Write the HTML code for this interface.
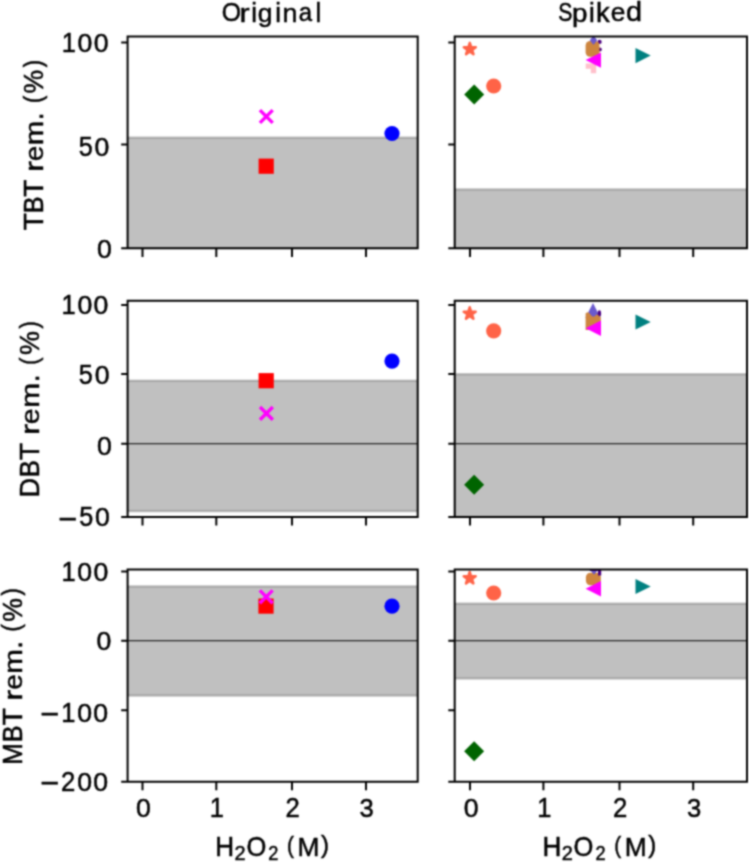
<!DOCTYPE html><html><head><meta charset="utf-8"><style>html,body{margin:0;padding:0;background:#fff;}svg{display:block;font-family:"Liberation Sans",sans-serif;}</style></head><body><svg width="749" height="862" viewBox="0 0 749 862">
<defs>
<clipPath id="c00"><rect x="127.6" y="36.4" width="290.1" height="211.9"/></clipPath>
<clipPath id="c01"><rect x="454.7" y="36.4" width="292.3" height="211.9"/></clipPath>
<clipPath id="c10"><rect x="127.6" y="300.7" width="290.1" height="216.3"/></clipPath>
<clipPath id="c11"><rect x="454.7" y="300.7" width="292.3" height="216.3"/></clipPath>
<clipPath id="c20"><rect x="127.6" y="569.4" width="290.1" height="212.3"/></clipPath>
<clipPath id="c21"><rect x="454.7" y="569.4" width="292.3" height="212.3"/></clipPath>
<filter id="bl" x="0" y="0" width="749" height="862" filterUnits="userSpaceOnUse" color-interpolation-filters="sRGB"><feConvolveMatrix order="5" divisor="1" kernelMatrix="0.00048 0.00501 0.01095 0.00501 0.00048 0.00501 0.05222 0.11405 0.05222 0.00501 0.01095 0.11405 0.24912 0.11405 0.01095 0.00501 0.05222 0.11405 0.05222 0.00501 0.00048 0.00501 0.01095 0.00501 0.00048" edgeMode="duplicate"/></filter>
</defs>
<g filter="url(#bl)">
<rect width="749" height="862" fill="#fff"/>
<g clip-path="url(#c00)">
<rect x="124.6" y="137.7" width="296.1" height="110.6" fill="#c0c0c0" stroke="rgba(128,128,128,0.5)" stroke-width="2.4"/>
</g>
<g clip-path="url(#c01)">
<rect x="451.7" y="189.5" width="298.3" height="58.8" fill="#c0c0c0" stroke="rgba(128,128,128,0.5)" stroke-width="2.4"/>
</g>
<g clip-path="url(#c10)">
<rect x="124.6" y="380.8" width="296.1" height="130.3" fill="#c0c0c0" stroke="rgba(128,128,128,0.5)" stroke-width="2.4"/>
<line x1="127.6" x2="417.7" y1="443.7" y2="443.7" stroke="#000" stroke-width="1.05"/>
</g>
<g clip-path="url(#c11)">
<rect x="451.7" y="374.3" width="298.3" height="142.7" fill="#c0c0c0" stroke="rgba(128,128,128,0.5)" stroke-width="2.4"/>
<line x1="454.7" x2="747.0" y1="443.7" y2="443.7" stroke="#000" stroke-width="1.05"/>
</g>
<g clip-path="url(#c20)">
<rect x="124.6" y="586.5" width="296.1" height="109" fill="#c0c0c0" stroke="rgba(128,128,128,0.5)" stroke-width="2.4"/>
<line x1="127.6" x2="417.7" y1="640.8" y2="640.8" stroke="#000" stroke-width="1.05"/>
</g>
<g clip-path="url(#c21)">
<rect x="451.7" y="603.7" width="298.3" height="74.7" fill="#c0c0c0" stroke="rgba(128,128,128,0.5)" stroke-width="2.4"/>
<line x1="454.7" x2="747.0" y1="640.8" y2="640.8" stroke="#000" stroke-width="1.05"/>
</g>
<g clip-path="url(#c00)"><rect x="258.6" y="158.6" width="15.2" height="15.2" fill="#ff0000"/><path d="M259.9,110.1L272.7,122.9M259.9,122.9L272.7,110.1" stroke="#ff00ff" stroke-width="3.4" fill="none"/><circle cx="392" cy="133.5" r="7.6" fill="#0000ff"/></g>
<g clip-path="url(#c01)"><polygon points="469.8,42.85 471.21,47.2 475.79,47.2 472.09,49.89 473.5,54.25 469.8,51.56 466.1,54.25 467.51,49.89 463.81,47.2 468.39,47.2" fill="#ff6347" stroke="#ff6347" stroke-width="2.5" stroke-linejoin="round"/><polygon points="474.2,84.5 484.2,94.5 474.2,104.5 464.2,94.5" fill="#006400"/><circle cx="493.7" cy="86" r="7.6" fill="#ff6347"/><path d="M585.7,63.6H596.2V73.3H590.8V68.7H585.7Z" fill="#ffc0cb"/><circle cx="599.6" cy="41.9" r="2.1" fill="#4b0082"/><circle cx="599.8" cy="49.4" r="2.0" fill="#4b0082"/><rect x="585.6" y="41" width="13.9" height="15.7" rx="4.5" fill="#cd853f"/><polygon points="593.5,36.3 596.7,40.3 593.5,44.3 590.3,40.3" fill="#6a5acd" stroke="#6a5acd" stroke-width="1" stroke-linejoin="round"/><polygon points="585.6,60.1 601,52.4 601,67.8" fill="#ff00ff"/><polygon points="650.7,55.6 635.5,48 635.5,63.2" fill="#008080"/></g>
<g clip-path="url(#c10)"><rect x="258.6" y="373.1" width="15.2" height="15.2" fill="#ff0000"/><path d="M260,407L272.8,419.8M260,419.8L272.8,407" stroke="#ff00ff" stroke-width="3.4" fill="none"/><circle cx="392" cy="361.1" r="7.6" fill="#0000ff"/></g>
<g clip-path="url(#c11)"><polygon points="469.7,307.3 471.11,311.65 475.69,311.65 471.99,314.34 473.4,318.7 469.7,316.01 466,318.7 467.41,314.34 463.71,311.65 468.29,311.65" fill="#ff6347" stroke="#ff6347" stroke-width="2.5" stroke-linejoin="round"/><circle cx="493.7" cy="330.8" r="7.6" fill="#ff6347"/><polygon points="474.1,474.8 484.1,484.8 474.1,494.8 464.1,484.8" fill="#006400"/><polygon points="593,302.9 585.4,318.1 600.6,318.1" fill="#6a5acd"/><ellipse cx="599.4" cy="313.6" rx="1.7" ry="3.4" fill="#4b0082"/><path d="M585.6,313.5L587.2,312.3L589,312.8L590.5,314.5L592,316.2L593.5,316.8L595,316L596.6,314.6L598,315L600.8,317.5V330H585.6Z" fill="#cd853f"/><polygon points="585.6,328.2 601,320.5 601,335.9" fill="#ff00ff"/><polygon points="650.7,322 635.5,314.4 635.5,329.6" fill="#008080"/></g>
<g clip-path="url(#c20)"><rect x="258.4" y="598.5" width="15.2" height="15.2" fill="#ff0000"/><path d="M259.8,590.4L272.6,603.2M259.8,603.2L272.6,590.4" stroke="#ff00ff" stroke-width="3.4" fill="none"/><circle cx="392" cy="606.2" r="7.6" fill="#0000ff"/></g>
<g clip-path="url(#c21)"><polygon points="469.7,572 471.11,576.35 475.69,576.35 471.99,579.04 473.4,583.4 469.7,580.71 466,583.4 467.41,579.04 463.71,576.35 468.29,576.35" fill="#ff6347" stroke="#ff6347" stroke-width="2.5" stroke-linejoin="round"/><circle cx="493.7" cy="593" r="7.6" fill="#ff6347"/><polygon points="474.1,741.3 484.1,751.3 474.1,761.3 464.1,751.3" fill="#006400"/><rect x="585.9" y="572.8" width="14.9" height="12.5" rx="4.5" fill="#cd853f"/><polygon points="594,561.8 598.9,568 594,574.2 589.1,568" fill="#6a5acd" stroke="#6a5acd" stroke-width="1" stroke-linejoin="round"/><path d="M589.8,569.4H601.2V575.4H598V571.1H589.8Z" fill="#4b0082"/><polygon points="585.6,588.7 601,581 601,596.4" fill="#ff00ff"/><polygon points="650.7,586.5 635.5,578.9 635.5,594.1" fill="#008080"/></g>
<path d="M127.6,36.4H417.7V248.3H127.6ZM121.2,42.6H127.6M121.2,144.6H127.6M121.2,248.3H127.6M142.5,248.3V256.9M216.3,248.3V256.9M292.0,248.3V256.9M366.0,248.3V256.9M454.7,36.4H747.0V248.3H454.7ZM448.3,42.6H454.7M448.3,144.6H454.7M448.3,248.3H454.7M470.0,248.3V256.9M543.4,248.3V256.9M619.5,248.3V256.9M693.2,248.3V256.9M127.6,300.7H417.7V517.0H127.6ZM121.2,304.9H127.6M121.2,373.9H127.6M121.2,443.7H127.6M121.2,517.0H127.6M142.5,517.0V525.6M216.3,517.0V525.6M292.0,517.0V525.6M366.0,517.0V525.6M454.7,300.7H747.0V517.0H454.7ZM448.3,304.9H454.7M448.3,373.9H454.7M448.3,443.7H454.7M448.3,517.0H454.7M470.0,517.0V525.6M543.4,517.0V525.6M619.5,517.0V525.6M693.2,517.0V525.6M127.6,569.4H417.7V781.7H127.6ZM121.2,571.5H127.6M121.2,640.8H127.6M121.2,710.2H127.6M121.2,781.7H127.6M142.5,781.7V790.3M216.3,781.7V790.3M292.0,781.7V790.3M366.0,781.7V790.3M454.7,569.4H747.0V781.7H454.7ZM448.3,571.5H454.7M448.3,640.8H454.7M448.3,710.2H454.7M448.3,781.7H454.7M470.0,781.7V790.3M543.4,781.7V790.3M619.5,781.7V790.3M693.2,781.7V790.3" stroke="#000" stroke-width="2.0" fill="none" stroke-linecap="butt"/>
<g font-family="Liberation Sans" font-size="1" fill="#000" stroke="#000"><text transform="matrix(24.758,0,0,26.553,221.727,21.341)" stroke-width="0.0195">O</text><text transform="matrix(30.4,0,0,26.018,239.581,21.6)" stroke-width="0.0178">r</text><text transform="matrix(25.862,0,0,27.601,251.333,21.6)" stroke-width="0.0187">i</text><text transform="matrix(26.462,0,0,26.339,257.789,21.734)" stroke-width="0.0189">g</text><text transform="matrix(25.862,0,0,27.601,275.133,21.6)" stroke-width="0.0187">i</text><text transform="matrix(26.836,0,0,26.018,282.618,21.6)" stroke-width="0.0189">n</text><text transform="matrix(23.945,0,0,25.554,298.783,21.35)" stroke-width="0.0202">a</text><text transform="matrix(25.862,0,0,27.601,315.521,21.6)" stroke-width="0.0187">l</text><text transform="matrix(21.192,0,0,26.553,558.138,21.341)" stroke-width="0.0211">S</text><text transform="matrix(27.796,0,0,26.305,572.008,21.741)" stroke-width="0.0185">p</text><text transform="matrix(25.862,0,0,27.601,588.983,21.6)" stroke-width="0.0187">i</text><text transform="matrix(27.414,0,0,27.601,596.053,21.6)" stroke-width="0.0182">k</text><text transform="matrix(26.213,0,0,25.554,610.786,21.35)" stroke-width="0.0193">e</text><text transform="matrix(28.908,0,0,27.234,625.986,21.334)" stroke-width="0.0178">d</text><text transform="matrix(25.472,0,0,27.326,61.645,52)" stroke-width="0.0190">1</text><text transform="matrix(26.67,0,0,26.553,77.528,51.741)" stroke-width="0.0188">0</text><text transform="matrix(26.67,0,0,26.553,93.625,51.741)" stroke-width="0.0188">0</text><text transform="matrix(25.17,0,0,26.944,78.712,155.837)" stroke-width="0.0192">5</text><text transform="matrix(26.67,0,0,26.553,94.49,155.841)" stroke-width="0.0188">0</text><text transform="matrix(26.67,0,0,26.553,96.884,257.541)" stroke-width="0.0188">0</text><text transform="matrix(25.472,0,0,27.326,61.595,314.45)" stroke-width="0.0190">1</text><text transform="matrix(26.67,0,0,26.553,77.478,314.191)" stroke-width="0.0188">0</text><text transform="matrix(26.67,0,0,26.553,93.575,314.191)" stroke-width="0.0188">0</text><text transform="matrix(25.17,0,0,26.944,78.862,383.787)" stroke-width="0.0192">5</text><text transform="matrix(26.67,0,0,26.553,94.64,383.791)" stroke-width="0.0188">0</text><text transform="matrix(26.67,0,0,26.553,96.984,454.591)" stroke-width="0.0188">0</text><text transform="matrix(32.598,0,0,29.801,58.127,528.636)" stroke-width="0.0160">−</text><text transform="matrix(25.17,0,0,26.944,79.196,526.487)" stroke-width="0.0192">5</text><text transform="matrix(26.67,0,0,26.553,94.975,526.491)" stroke-width="0.0188">0</text><text transform="matrix(25.472,0,0,27.326,61.395,581.25)" stroke-width="0.0190">1</text><text transform="matrix(26.67,0,0,26.553,77.278,580.991)" stroke-width="0.0188">0</text><text transform="matrix(26.67,0,0,26.553,93.375,580.991)" stroke-width="0.0188">0</text><text transform="matrix(26.67,0,0,26.553,96.384,650.291)" stroke-width="0.0188">0</text><text transform="matrix(32.598,0,0,29.801,40.279,723.936)" stroke-width="0.0160">−</text><text transform="matrix(25.472,0,0,27.326,61.243,722.05)" stroke-width="0.0190">1</text><text transform="matrix(26.67,0,0,26.553,77.127,721.791)" stroke-width="0.0188">0</text><text transform="matrix(26.67,0,0,26.553,93.223,721.791)" stroke-width="0.0188">0</text><text transform="matrix(32.598,0,0,29.801,40.279,793.186)" stroke-width="0.0160">−</text><text transform="matrix(25.707,0,0,26.925,60.964,791.3)" stroke-width="0.0190">2</text><text transform="matrix(26.67,0,0,26.553,77.127,791.041)" stroke-width="0.0188">0</text><text transform="matrix(26.67,0,0,26.553,93.223,791.041)" stroke-width="0.0188">0</text><text transform="matrix(26.67,0,0,26.553,135.934,816.841)" stroke-width="0.0188">0</text><text transform="matrix(25.472,0,0,27.326,209.719,817.1)" stroke-width="0.0190">1</text><text transform="matrix(25.707,0,0,26.925,285.552,817.1)" stroke-width="0.0190">2</text><text transform="matrix(25.613,0,0,26.553,359.403,816.841)" stroke-width="0.0192">3</text><text transform="matrix(26.67,0,0,26.553,463.634,816.841)" stroke-width="0.0188">0</text><text transform="matrix(25.472,0,0,27.326,537.319,817.1)" stroke-width="0.0190">1</text><text transform="matrix(25.707,0,0,26.925,612.902,817.1)" stroke-width="0.0190">2</text><text transform="matrix(25.613,0,0,26.553,687.053,816.841)" stroke-width="0.0192">3</text><text transform="matrix(0,-28.194,27.326,0,43.2,230.349)" stroke-width="0.0180">T</text><text transform="matrix(0,-25.115,27.326,0,43.2,213.373)" stroke-width="0.0191">B</text><text transform="matrix(0,-28.194,27.326,0,43.2,196.825)" stroke-width="0.0180">T</text><text transform="matrix(0,-33.12,26.018,0,43.2,171.96)" stroke-width="0.0170">r</text><text transform="matrix(0,-27.921,25.554,0,42.95,161.241)" stroke-width="0.0187">e</text><text transform="matrix(0,-29.453,26.018,0,43.2,145.185)" stroke-width="0.0181">m</text><text transform="matrix(0,-27.971,29.685,0,43.2,120.186)" stroke-width="0.0174">.</text><text transform="matrix(0,-21.851,25.277,0,41.516,103.096)" stroke-width="0.0213">(</text><text transform="matrix(0,-26.544,26.868,0,43.043,93.397)" stroke-width="0.0187">%</text><text transform="matrix(0,-21.851,25.277,0,41.516,67.372)" stroke-width="0.0213">)</text><text transform="matrix(0,-27.221,27.326,0,39.3,497.581)" stroke-width="0.0183">D</text><text transform="matrix(0,-25.562,27.326,0,39.3,477.185)" stroke-width="0.0189">B</text><text transform="matrix(0,-28.696,27.326,0,39.3,460.343)" stroke-width="0.0179">T</text><text transform="matrix(0,-33.71,26.018,0,39.3,435.036)" stroke-width="0.0169">r</text><text transform="matrix(0,-28.418,25.554,0,39.05,424.125)" stroke-width="0.0186">e</text><text transform="matrix(0,-29.977,26.018,0,39.3,407.784)" stroke-width="0.0179">m</text><text transform="matrix(0,-28.469,29.685,0,39.3,382.34)" stroke-width="0.0172">.</text><text transform="matrix(0,-22.24,25.277,0,37.616,364.946)" stroke-width="0.0211">(</text><text transform="matrix(0,-27.017,26.868,0,39.143,355.074)" stroke-width="0.0186">%</text><text transform="matrix(0,-22.24,25.277,0,37.616,328.587)" stroke-width="0.0211">)</text><text transform="matrix(0,-25.884,27.326,0,21.9,764.675)" stroke-width="0.0188">M</text><text transform="matrix(0,-25.222,27.326,0,21.9,742.223)" stroke-width="0.0190">B</text><text transform="matrix(0,-28.314,27.326,0,21.9,725.604)" stroke-width="0.0180">T</text><text transform="matrix(0,-33.261,26.018,0,21.9,700.634)" stroke-width="0.0170">r</text><text transform="matrix(0,-28.04,25.554,0,21.65,689.869)" stroke-width="0.0187">e</text><text transform="matrix(0,-29.578,26.018,0,21.9,673.745)" stroke-width="0.0180">m</text><text transform="matrix(0,-28.09,29.685,0,21.9,648.639)" stroke-width="0.0173">.</text><text transform="matrix(0,-21.944,25.277,0,20.216,631.476)" stroke-width="0.0212">(</text><text transform="matrix(0,-26.657,26.868,0,21.743,621.736)" stroke-width="0.0187">%</text><text transform="matrix(0,-21.944,25.277,0,20.216,595.601)" stroke-width="0.0212">)</text><text transform="matrix(26.137,0,0,27.035,215.356,855.7)" stroke-width="0.0188">H</text><text transform="matrix(19.975,0,0,21.053,234.495,860.2)" stroke-width="0.0244">2</text><text transform="matrix(25.49,0,0,27.966,246.393,855.827)" stroke-width="0.0187">O</text><text transform="matrix(18.219,0,0,21.053,268.284,860.2)" stroke-width="0.0255">2</text><text transform="matrix(20.744,0,0,24.473,287.114,853.033)" stroke-width="0.0222">(</text><text transform="matrix(26.31,0,0,26.309,297.442,855.7)" stroke-width="0.0190">M</text><text transform="matrix(24.138,0,0,24.473,320.959,853.033)" stroke-width="0.0206">)</text><text transform="matrix(26.137,0,0,27.035,542.556,855.7)" stroke-width="0.0188">H</text><text transform="matrix(19.975,0,0,21.053,561.695,860.2)" stroke-width="0.0244">2</text><text transform="matrix(25.49,0,0,27.966,573.593,855.827)" stroke-width="0.0187">O</text><text transform="matrix(18.219,0,0,21.053,595.484,860.2)" stroke-width="0.0255">2</text><text transform="matrix(20.744,0,0,24.473,614.314,853.033)" stroke-width="0.0222">(</text><text transform="matrix(26.31,0,0,26.309,624.642,855.7)" stroke-width="0.0190">M</text><text transform="matrix(24.138,0,0,24.473,648.159,853.033)" stroke-width="0.0206">)</text></g>
</g>
</svg></body></html>
